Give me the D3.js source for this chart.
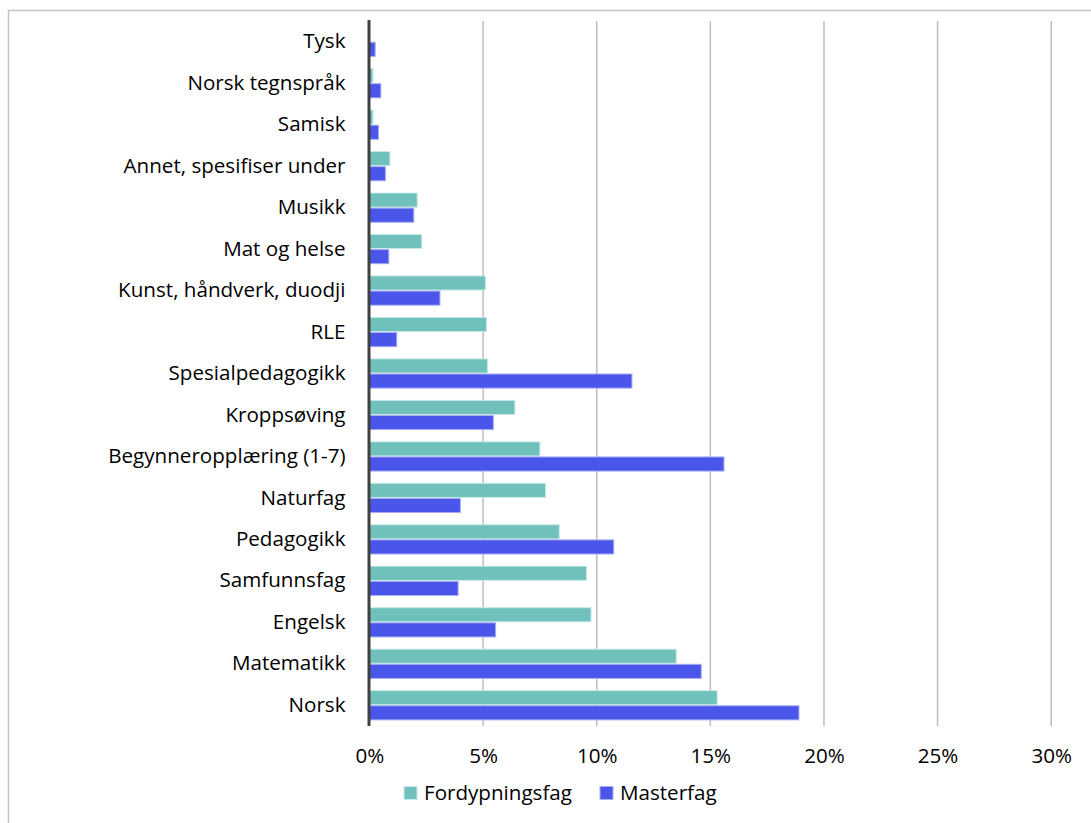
<!DOCTYPE html>
<html>
<head>
<meta charset="utf-8">
<script src="https://cdn.jsdelivr.net/npm/d3@7"></script>
<style>
  html, body { margin: 0; padding: 0; background: #fff; }
  svg { display: block; font-family: "Open Sans", sans-serif; }
</style>
</head>
<body>
<svg id="chart" width="1091" height="823"></svg>
<script>
// Subjects, top to bottom
const categories = [
  "Tysk", "Norsk tegnspråk", "Samisk", "Annet, spesifiser under", "Musikk",
  "Mat og helse", "Kunst, håndverk, duodji", "RLE", "Spesialpedagogikk",
  "Kroppsøving", "Begynneropplæring (1-7)", "Naturfag", "Pedagogikk",
  "Samfunnsfag", "Engelsk", "Matematikk", "Norsk"
];
const seriesNames = ["Fordypningsfag", "Masterfag"];
// Share of respondents (%)
const fordypningsfag = [0, 0.15, 0.15, 0.9, 2.1, 2.3, 5.1, 5.15, 5.2, 6.4, 7.5, 7.75, 8.35, 9.55, 9.75, 13.5, 15.3];
const masterfag      = [0.25, 0.5, 0.4, 0.7, 1.95, 0.85, 3.1, 1.2, 11.55, 5.45, 15.6, 4.0, 10.75, 3.9, 5.55, 14.6, 18.9];
const tickValues = [0, 5, 10, 15, 20, 25, 30];

const colors = { "Fordypningsfag": "#70c0bb", "Masterfag": "#4a55ea" };
const strokes = { "Fordypningsfag": "#c9ebe8", "Masterfag": "#aaaef5" };
const FONT = "'Open Sans', sans-serif";
const FONT_SIZE = "20.6px";

const svg = d3.select("#chart");
const W = 1091, H = 823;
const plot = { left: 369.5, right: 1051.2, top: 21, bottom: 726 };

// Outer frame
svg.append("path")
  .attr("d", `M8.5,${H} V10.5 H${W}`)
  .attr("fill", "none").attr("stroke", "#c4c4c4").attr("stroke-width", 1.5);

const x = d3.scaleLinear().domain([0, 30]).range([plot.left, plot.right]);
const y0 = d3.scaleBand().domain(categories).range([plot.top, plot.bottom])
  .paddingInner(0.27).paddingOuter(0.135);
const y1 = d3.scaleBand().domain(seriesNames).range([0, y0.bandwidth()]);

// Vertical gridlines
svg.append("g").selectAll("line")
  .data(tickValues.filter(d => d > 0))
  .join("line")
  .attr("x1", d => x(d)).attr("x2", d => x(d))
  .attr("y1", plot.top).attr("y2", plot.bottom)
  .attr("stroke", "#bdbdbd").attr("stroke-width", 1.5);

// Tick labels via axis
const xAxis = d3.axisBottom(x).tickValues(tickValues).tickFormat(d => d + "%").tickSize(0).tickPadding(0);
const gx = svg.append("g").attr("transform", `translate(0,${plot.bottom + 22})`).call(xAxis);
gx.select(".domain").remove();
gx.selectAll("text").attr("font-size", FONT_SIZE).attr("fill", "#000")
  .attr("font-family", FONT);

// Bars
const rows = categories.map((c, i) => ({ cat: c, values: [
  { key: "Fordypningsfag", v: fordypningsfag[i] },
  { key: "Masterfag", v: masterfag[i] }
]}));

const groups = svg.append("g").selectAll("g").data(rows).join("g")
  .attr("transform", d => `translate(0,${y0(d.cat)})`);
groups.selectAll("rect").data(d => d.values).join("rect")
  .attr("x", x(0))
  .attr("y", d => y1(d.key) + 0.5)
  .attr("height", y1.bandwidth() - 1)
  .attr("width", d => Math.max(0, x(d.v) - x(0)))
  .attr("fill", d => colors[d.key])
  .attr("stroke", d => strokes[d.key])
  .attr("stroke-width", 1);

// Category labels
const yAxis = d3.axisLeft(y0).tickSize(0).tickPadding(24);
const gy = svg.append("g").attr("transform", `translate(${plot.left},0)`).call(yAxis);
gy.select(".domain").remove();
gy.selectAll("text").attr("font-size", FONT_SIZE).attr("fill", "#000")
  .attr("font-family", FONT);

// Zero baseline
svg.append("line")
  .attr("x1", x(0) - 0.5).attr("x2", x(0) - 0.5)
  .attr("y1", plot.top - 1).attr("y2", plot.bottom)
  .attr("stroke", "#404040").attr("stroke-width", 3);

// Legend
const legend = svg.append("g").attr("transform", "translate(404,793)");
const legendX = [0, 196];
seriesNames.forEach((s, i) => {
  const g = legend.append("g").attr("transform", `translate(${legendX[i]},0)`);
  g.append("rect").attr("x", 0).attr("y", -6.5).attr("width", 13).attr("height", 13)
    .attr("fill", colors[s]).attr("stroke", strokes[s]).attr("stroke-width", 1);
  g.append("text").attr("x", 20).attr("y", 0).attr("dy", "0.35em")
    .attr("font-size", FONT_SIZE).attr("font-family", FONT).attr("fill", "#000").text(s);
});
</script>
</body>
</html>
